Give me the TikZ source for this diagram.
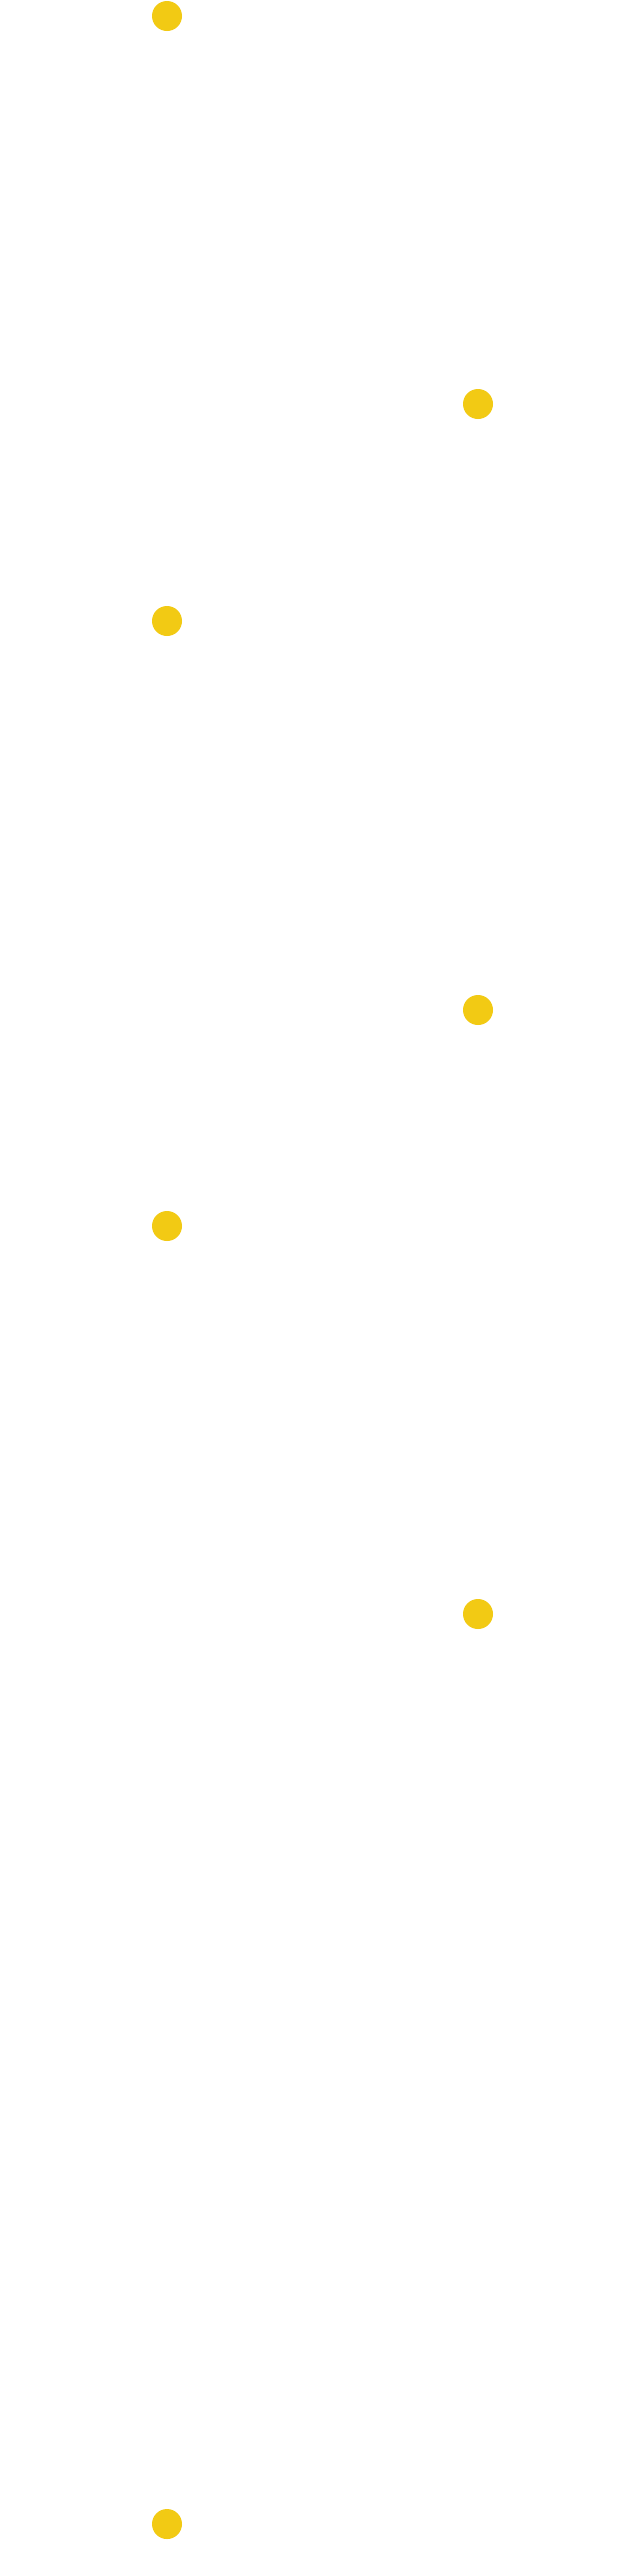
\documentclass[tikz,border=0pt]{standalone}
\definecolor{dotyellow}{HTML}{F2CA14}
\begin{document}
\begin{tikzpicture}[x=1pt,y=-1pt,dot/.style={circle,fill=dotyellow,inner sep=0pt,minimum size=30pt}]
\useasboundingbox[fill=white] (0,0) rectangle (634,2560);
\node[dot] (d1) at (167,16) {};
\node[dot] (d2) at (478,404) {};
\node[dot] (d3) at (167,621) {};
\node[dot] (d4) at (478,1010) {};
\node[dot] (d5) at (167,1226) {};
\node[dot] (d6) at (478,1614) {};
\node[dot] (d7) at (167,2524) {};
\end{tikzpicture}
\end{document}
